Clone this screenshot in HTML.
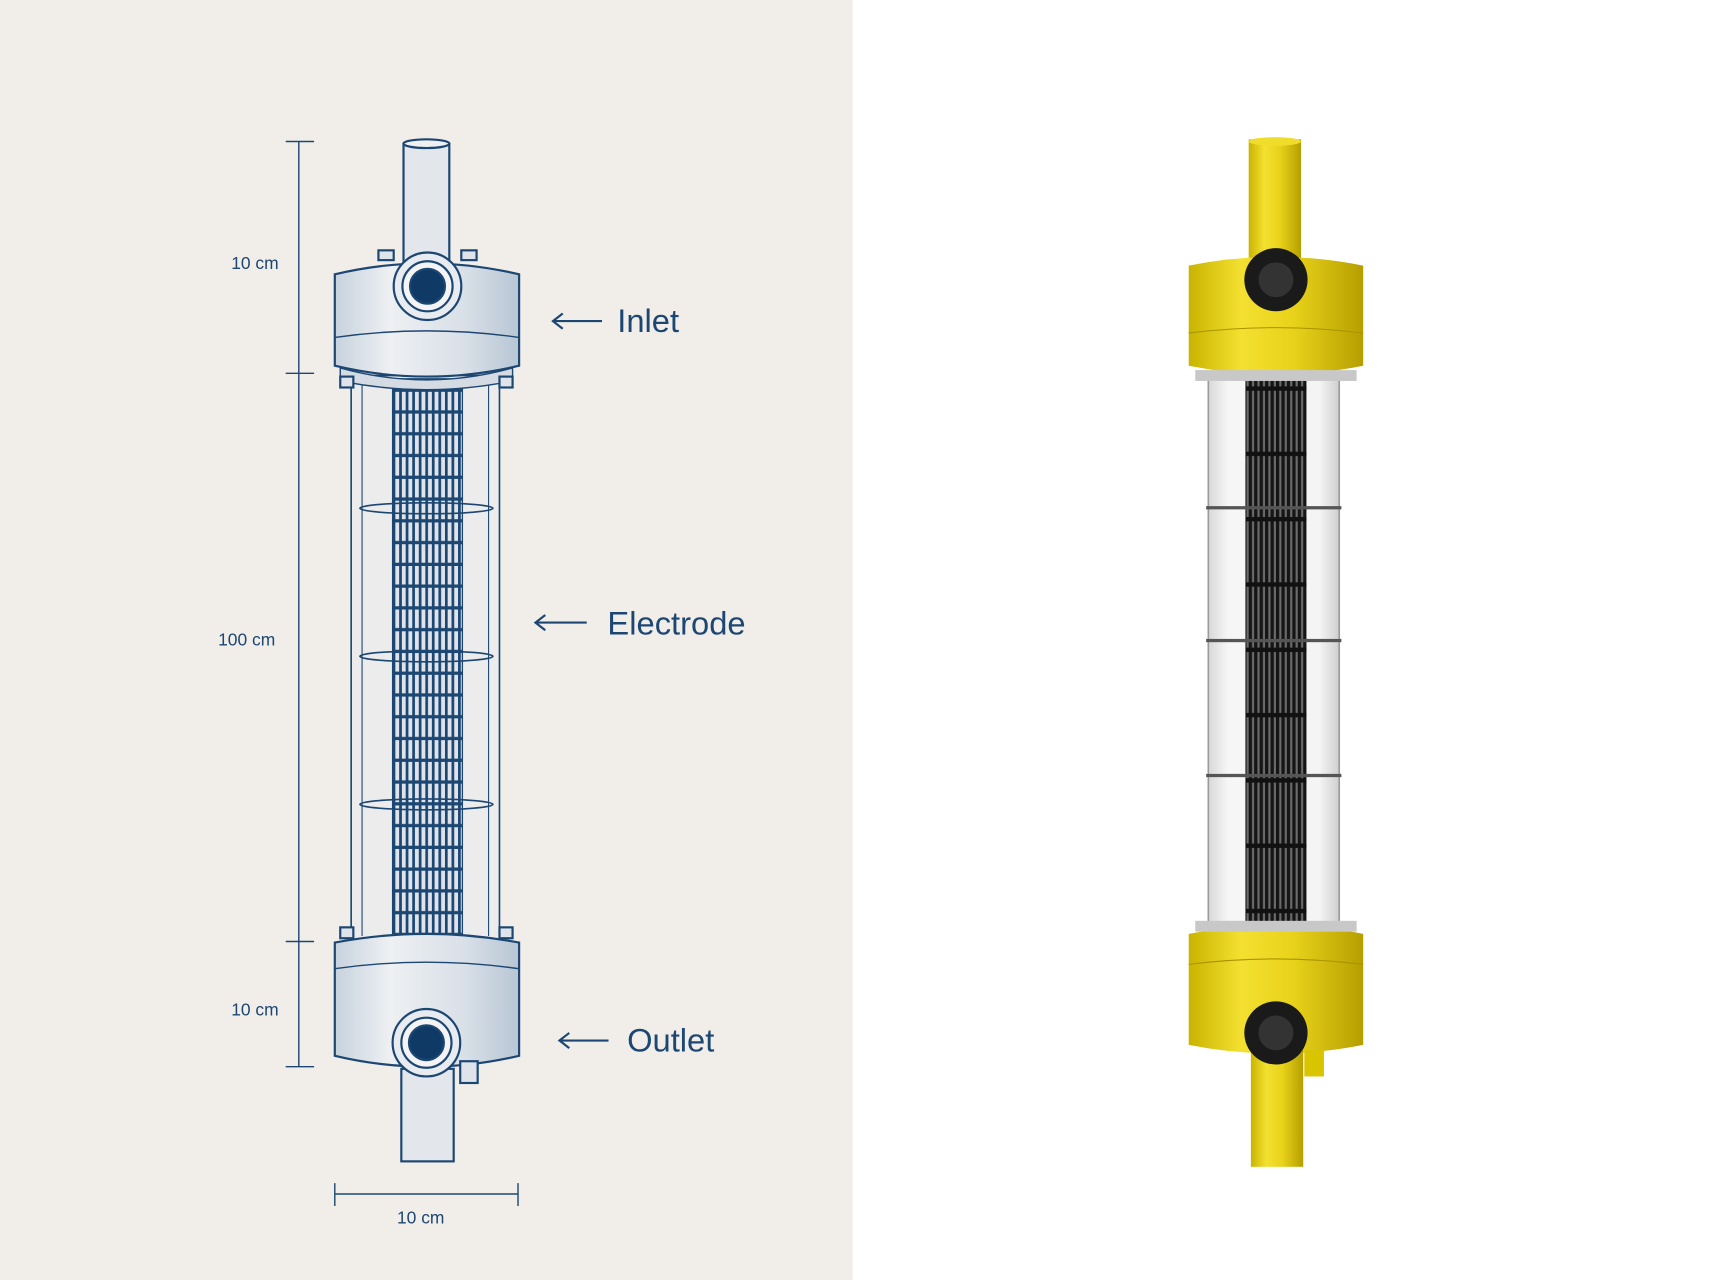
<!DOCTYPE html>
<html><head><meta charset="utf-8"><style>
html,body{margin:0;padding:0;width:1710px;height:1280px;overflow:hidden;background:#fff}
svg{display:block}
</style></head><body>
<svg width="1710" height="1280" viewBox="0 0 1568 1176" preserveAspectRatio="none" xmlns="http://www.w3.org/2000/svg">
<defs>
<pattern id="el" width="6" height="20" patternUnits="userSpaceOnUse">
<rect width="6" height="20" fill="#dfe4ea"/>
<rect x="0" width="2.5" height="20" fill="#1d4773"/>
<rect y="17" width="6" height="3" fill="#1d4773"/>
</pattern>
<pattern id="elk" width="5" height="60" patternUnits="userSpaceOnUse">
<rect width="5" height="60" fill="#6a6a6a"/>
<rect width="3" height="60" fill="#151515"/>
<rect y="55" width="5" height="4" fill="#111"/>
</pattern>
<linearGradient id="yl" x1="0" x2="1">
<stop offset="0" stop-color="#c9b400"/><stop offset="0.3" stop-color="#f3e030"/><stop offset="0.6" stop-color="#e9d21a"/><stop offset="1" stop-color="#b59f00"/>
</linearGradient>
<linearGradient id="gl" x1="0" x2="1">
<stop offset="0" stop-color="#d8d8d8"/><stop offset="0.15" stop-color="#f6f6f6"/><stop offset="0.85" stop-color="#f4f4f4"/><stop offset="1" stop-color="#cfcfcf"/>
</linearGradient>
<linearGradient id="cap" x1="0" x2="1">
<stop offset="0" stop-color="#c7d2de"/><stop offset="0.3" stop-color="#eef0f2"/><stop offset="0.7" stop-color="#d9e0e8"/><stop offset="1" stop-color="#b8c6d4"/>
</linearGradient>
</defs>
<rect x="0" y="0" width="782" height="1176" fill="#f1eee9"/>
<rect x="782" y="0" width="786" height="1176" fill="#ffffff"/>

<!-- LEFT SKETCH -->
<g stroke="#1d4773" stroke-width="2" fill="none">
<!-- dimension line -->
<line x1="274" y1="130" x2="274" y2="980" stroke-width="1.3"/>
<line x1="262" y1="130" x2="288" y2="130" stroke-width="1.3"/>
<line x1="262" y1="343" x2="288" y2="343" stroke-width="1.3"/>
<line x1="262" y1="865" x2="288" y2="865" stroke-width="1.3"/>
<line x1="262" y1="980" x2="288" y2="980" stroke-width="1.3"/>
<line x1="307" y1="1097" x2="475" y2="1097" stroke-width="1.3"/>
<line x1="307" y1="1087" x2="307" y2="1108" stroke-width="1.3"/>
<line x1="475" y1="1087" x2="475" y2="1108" stroke-width="1.3"/>
<!-- top pipe -->
<rect x="370" y="132" width="42" height="110" fill="#e3e7ec"/>
<ellipse cx="391" cy="132" rx="21" ry="4" fill="#eef0f2"/>
<!-- tube -->
<rect x="322" y="345" width="136" height="520" fill="#ebeceb" stroke-width="1.5"/>
<line x1="332" y1="350" x2="332" y2="860" stroke-width="1"/>
<line x1="448" y1="350" x2="448" y2="860" stroke-width="1"/>
<rect x="360" y="348" width="64" height="517" fill="url(#el)" stroke-width="1.2"/>
<ellipse cx="391" cy="467" rx="61" ry="5" stroke-width="1.5"/>
<ellipse cx="391" cy="603" rx="61" ry="5" stroke-width="1.5"/>
<ellipse cx="391" cy="739" rx="61" ry="5" stroke-width="1.5"/>
<!-- top cap -->
<path d="M307 252 Q391 232 476 252 L476 336 Q391 356 307 336 Z" fill="url(#cap)"/>
<path d="M307 310 Q391 298 476 310" stroke-width="1.3"/>
<path d="M312 338 Q391 360 470 338 L470 350 Q391 366 312 350Z" fill="#d4dbe3" stroke-width="1.3"/>
<rect x="347" y="230" width="14" height="9" fill="#dfe4ea"/>
<rect x="423" y="230" width="14" height="9" fill="#dfe4ea"/>
<rect x="312" y="346" width="12" height="10" fill="#dfe4ea"/>
<rect x="458" y="346" width="12" height="10" fill="#dfe4ea"/>
<circle cx="392" cy="263" r="31" fill="#e8ecf0"/>
<circle cx="392" cy="263" r="23" fill="#f4f4f4"/>
<circle cx="392" cy="263" r="16" fill="#0f3a66"/>
<!-- bottom cap -->
<path d="M307 866 Q391 850 476 866 L476 970 Q391 990 307 970 Z" fill="url(#cap)"/>
<path d="M307 890 Q391 878 476 890" stroke-width="1.3"/>
<rect x="312" y="852" width="12" height="10" fill="#dfe4ea"/>
<rect x="458" y="852" width="12" height="10" fill="#dfe4ea"/>
<!-- bottom pipe -->
<rect x="368" y="982" width="48" height="85" fill="#e3e7ec"/>
<rect x="422" y="975" width="16" height="20" fill="#dfe4ea"/>
<circle cx="391" cy="958" r="31" fill="#e8ecf0"/>
<circle cx="391" cy="958" r="23" fill="#f4f4f4"/>
<circle cx="391" cy="958" r="16" fill="#0f3a66"/>
<!-- label arrows -->
<line x1="508" y1="295" x2="552" y2="295"/><path d="M516 288 L507 295 L516 302"/>
<line x1="492" y1="572" x2="538" y2="572"/><path d="M500 565 L491 572 L500 579"/>
<line x1="514" y1="956" x2="558" y2="956"/><path d="M522 949 L513 956 L522 963"/>
</g>
<g fill="#1d4773" font-family="Liberation Sans, sans-serif">
<text x="212" y="247" font-size="16">10 cm</text>
<text x="200" y="593" font-size="16">100 cm</text>
<text x="212" y="933" font-size="16">10 cm</text>
<text x="364" y="1124" font-size="16">10 cm</text>
<text x="566" y="305" font-size="30">Inlet</text>
<text x="557" y="583" font-size="30">Electrode</text>
<text x="575" y="966" font-size="30">Outlet</text>
</g>

<!-- RIGHT PHOTO -->
<rect x="1145" y="128" width="48" height="115" fill="url(#yl)"/>
<ellipse cx="1169" cy="130" rx="24" ry="4" fill="#f0dc2a"/>
<rect x="1108" y="345" width="120" height="510" fill="url(#gl)" stroke="#9a9a9a" stroke-width="1.5"/>
<rect x="1142" y="348" width="56" height="507" fill="url(#elk)"/>
<rect x="1106" y="465" width="124" height="3" fill="#555"/>
<rect x="1106" y="587" width="124" height="3" fill="#555"/>
<rect x="1106" y="711" width="124" height="3" fill="#555"/>
<path d="M1090 244 Q1170 228 1250 244 L1250 336 Q1170 352 1090 336 Z" fill="url(#yl)"/>
<path d="M1090 306 Q1170 296 1250 306" stroke="#a89400" fill="none"/>
<rect x="1096" y="340" width="148" height="10" fill="#c8c8c8"/>
<circle cx="1170" cy="257" r="29" fill="#1a1a1a"/>
<circle cx="1170" cy="257" r="16" fill="#333"/>
<path d="M1090 858 Q1170 842 1250 858 L1250 960 Q1170 976 1090 960 Z" fill="url(#yl)"/>
<rect x="1096" y="846" width="148" height="10" fill="#c8c8c8"/>
<path d="M1090 886 Q1170 876 1250 886" stroke="#a89400" fill="none"/>
<rect x="1147" y="965" width="48" height="107" fill="url(#yl)"/>
<rect x="1196" y="965" width="18" height="24" fill="#d9c400"/>
<circle cx="1170" cy="949" r="29" fill="#1a1a1a"/>
<circle cx="1170" cy="949" r="16" fill="#333"/>
</svg>
</body></html>
